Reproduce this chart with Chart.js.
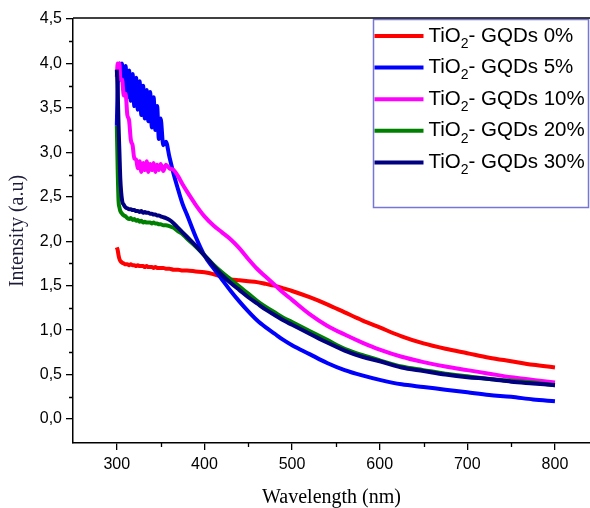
<!DOCTYPE html>
<html>
<head>
<meta charset="utf-8">
<script src="https://cdn.jsdelivr.net/npm/chart.js@4.4.1/dist/chart.umd.min.js"></script>
<style>
  html, body { margin: 0; padding: 0; background: #fff; overflow: hidden; }
</style>
</head>
<body>
<canvas id="chart" width="590" height="508"></canvas>
<script>
// wavelength grid (nm), shared by all spectra
const wavelength = [
  300, 301, 302, 303, 304, 306, 308, 310, 312, 314,
  316, 318, 320, 322, 324, 326, 328, 330, 332, 334,
  336, 338, 340, 342, 344, 346, 348, 350, 353, 356,
  360, 365, 370, 375, 380, 390, 400, 410, 420, 430,
  440, 450, 460, 470, 480, 490, 500, 520, 540, 560,
  580, 600, 625, 650, 675, 700, 725, 750, 775, 800,
];

const gqd0 = [
  1.93, 1.90, 1.84, 1.80, 1.78, 1.76, 1.75, 1.74, 1.74, 1.73,
  1.74, 1.73, 1.73, 1.72, 1.73, 1.72, 1.72, 1.72, 1.71, 1.72,
  1.71, 1.71, 1.71, 1.70, 1.71, 1.70, 1.70, 1.70, 1.70, 1.69,
  1.69, 1.68, 1.68, 1.67, 1.67, 1.66, 1.65, 1.63, 1.60, 1.57,
  1.56, 1.55, 1.54, 1.52, 1.50, 1.47, 1.44, 1.37, 1.29, 1.20,
  1.11, 1.03, 0.93, 0.85, 0.79, 0.74, 0.69, 0.65, 0.61, 0.58,
];
const gqd5 = [
  3.30, 3.75, 3.95, 4.00, 3.82, 4.00, 3.68, 3.97, 3.62, 3.92,
  3.58, 3.88, 3.52, 3.84, 3.48, 3.80, 3.42, 3.75, 3.38, 3.70,
  3.35, 3.68, 3.28, 3.62, 3.25, 3.52, 3.15, 3.38, 3.08, 3.12,
  2.95, 2.75, 2.58, 2.42, 2.30, 2.05, 1.84, 1.70, 1.57, 1.44,
  1.32, 1.21, 1.11, 1.03, 0.96, 0.89, 0.83, 0.73, 0.63, 0.55,
  0.49, 0.44, 0.39, 0.36, 0.33, 0.30, 0.27, 0.25, 0.22, 0.20,
];
const gqd10 = [
  3.85, 4.00, 3.92, 4.00, 3.82, 3.82, 3.64, 3.66, 3.42, 3.36,
  3.14, 3.08, 2.93, 2.92, 2.82, 2.90, 2.78, 2.88, 2.80, 2.90,
  2.78, 2.87, 2.80, 2.88, 2.78, 2.86, 2.80, 2.87, 2.79, 2.86,
  2.82, 2.80, 2.73, 2.64, 2.56, 2.41, 2.28, 2.18, 2.10, 2.02,
  1.92, 1.80, 1.69, 1.60, 1.51, 1.42, 1.34, 1.18, 1.05, 0.95,
  0.86, 0.78, 0.70, 0.64, 0.59, 0.55, 0.51, 0.47, 0.44, 0.41,
];
const gqd20 = [
  3.30, 2.80, 2.45, 2.38, 2.34, 2.31, 2.29, 2.28, 2.26, 2.25,
  2.26, 2.24, 2.25, 2.23, 2.24, 2.22, 2.23, 2.21, 2.22, 2.21,
  2.21, 2.21, 2.20, 2.21, 2.20, 2.20, 2.19, 2.19, 2.18, 2.18,
  2.17, 2.15, 2.11, 2.08, 2.03, 1.94, 1.84, 1.74, 1.65, 1.57,
  1.49, 1.41, 1.33, 1.26, 1.20, 1.14, 1.09, 0.99, 0.89, 0.79,
  0.72, 0.66, 0.59, 0.55, 0.51, 0.48, 0.45, 0.43, 0.41, 0.38,
];
const gqd30 = [
  3.93, 3.70, 3.30, 3.00, 2.70, 2.46, 2.41, 2.38, 2.37, 2.36,
  2.36, 2.35, 2.35, 2.34, 2.34, 2.33, 2.34, 2.32, 2.33, 2.32,
  2.32, 2.31, 2.31, 2.30, 2.30, 2.29, 2.29, 2.28, 2.27, 2.26,
  2.24, 2.20, 2.15, 2.10, 2.05, 1.95, 1.84, 1.73, 1.62, 1.53,
  1.45, 1.37, 1.30, 1.23, 1.17, 1.11, 1.06, 0.96, 0.86, 0.77,
  0.70, 0.65, 0.58, 0.54, 0.50, 0.47, 0.45, 0.42, 0.40, 0.38,
];

const seriesValues = [gqd0, gqd5, gqd10, gqd20, gqd30];
const seriesNames = ['0%', '5%', '10%', '20%', '30%'];
const seriesColors = ['#ff0000', '#0000ff', '#ff00ff', '#008000', '#000080'];

const xMajorTicks = [300, 400, 500, 600, 700, 800];
const xMinorTicks = [350, 450, 550, 650, 750];
const yMajorTicks = [0, 0.5, 1, 1.5, 2, 2.5, 3, 3.5, 4, 4.5];
const yMinorTicks = [0.25, 0.75, 1.25, 1.75, 2.25, 2.75, 3.25, 3.75, 4.25];

const SANS = "'Liberation Sans', Arial, sans-serif";
const SERIF = "'Liberation Serif', 'Times New Roman', serif";

// minor ticks + top frame line
const framePlugin = {
  id: 'frame',
  afterDraw(chart) {
    const { ctx, chartArea, scales } = chart;
    ctx.save();
    ctx.strokeStyle = '#000';
    ctx.lineWidth = 1.3;
    ctx.beginPath();
    xMinorTicks.forEach((v) => {
      const px = Math.round(scales.x.getPixelForValue(v)) + 0.5;
      ctx.moveTo(px, chartArea.bottom);
      ctx.lineTo(px, chartArea.bottom + 4);
    });
    yMinorTicks.forEach((v) => {
      const py = Math.round(scales.y.getPixelForValue(v)) + 0.5;
      ctx.moveTo(chartArea.left, py);
      ctx.lineTo(chartArea.left - 4, py);
    });
    ctx.stroke();
    ctx.lineWidth = 1.5;
    ctx.beginPath();
    ctx.moveTo(chartArea.left, chartArea.top - 1);
    ctx.lineTo(chartArea.right, chartArea.top - 1);
    ctx.stroke();
    ctx.restore();
  },
};

// boxed legend with TiO2 subscript
const legendPlugin = {
  id: 'boxLegend',
  afterDatasetsDraw(chart) {
    const ctx = chart.ctx;
    const bx = 373.5, by = 19.5;
    ctx.save();
    ctx.fillStyle = '#fff';
    ctx.fillRect(bx, by, 215, 188);
    ctx.strokeStyle = '#7676d8';
    ctx.lineWidth = 1.5;
    ctx.strokeRect(bx, by, 215, 188);
    seriesNames.forEach((name, i) => {
      const y = 36 + i * 31.6;
      ctx.strokeStyle = seriesColors[i];
      ctx.lineWidth = 4;
      ctx.beginPath();
      ctx.moveTo(bx + 1, y);
      ctx.lineTo(bx + 50, y);
      ctx.stroke();
      ctx.fillStyle = '#000';
      ctx.textBaseline = 'middle';
      ctx.font = '20.5px ' + SANS;
      let tx = bx + 55;
      ctx.fillText('TiO', tx, y);
      tx += ctx.measureText('TiO').width;
      ctx.font = '14px ' + SANS;
      ctx.fillText('2', tx, y + 8);
      tx += ctx.measureText('2').width;
      ctx.font = '20.5px ' + SANS;
      ctx.fillText('- GQDs ' + name, tx, y);
    });
    ctx.restore();
  },
};

const datasets = seriesValues.map((vals, i) => ({
  label: 'TiO2- GQDs ' + seriesNames[i],
  data: wavelength.map((w, j) => ({ x: w, y: vals[j] })),
  borderColor: seriesColors[i],
  backgroundColor: seriesColors[i],
  borderWidth: 4,
  pointRadius: 0,
  cubicInterpolationMode: 'monotone',
  order: seriesValues.length - i,
}));

new Chart(document.getElementById('chart').getContext('2d'), {
  type: 'line',
  data: { datasets },
  plugins: [framePlugin, legendPlugin],
  options: {
    responsive: false,
    animation: false,
    layout: { padding: { top: 19, right: 0, left: 0, bottom: 0 } },
    plugins: { legend: { display: false }, tooltip: { enabled: false } },
    scales: {
      x: {
        type: 'linear',
        min: 250,
        max: 840,
        afterBuildTicks: (scale) => {
          scale.ticks = xMajorTicks.map((v) => ({ value: v }));
        },
        afterFit: (scale) => {
          scale.height = 65;
        },
        border: { display: true, color: '#000', width: 1.5 },
        grid: {
          drawOnChartArea: false,
          drawTicks: true,
          tickLength: 7,
          color: '#000',
          lineWidth: 1.3,
        },
        ticks: {
          color: '#000',
          font: { family: SANS, size: 16 },
          padding: 5,
          maxRotation: 0,
          callback: (v) => String(v),
        },
        title: {
          display: true,
          text: 'Wavelength (nm)',
          color: '#000',
          font: { family: SERIF, size: 20 },
          padding: { top: 0, bottom: -2 },
        },
      },
      y: {
        min: -0.27,
        max: 4.5,
        afterBuildTicks: (scale) => {
          scale.ticks = yMajorTicks.map((v) => ({ value: v }));
        },
        afterFit: (scale) => {
          scale.width = 73;
        },
        border: { display: true, color: '#000', width: 1.5 },
        grid: {
          drawOnChartArea: false,
          drawTicks: true,
          tickLength: 7,
          color: '#000',
          lineWidth: 1.3,
        },
        ticks: {
          color: '#000',
          font: { family: SANS, size: 16 },
          padding: 4,
          callback: (v) => v.toFixed(1).replace('.', ','),
        },
        title: {
          display: true,
          text: 'Intensity (a.u)',
          color: '#1c1c3a',
          font: { family: SERIF, size: 20 },
          padding: { top: 6, bottom: 0 },
        },
      },
    },
  },
});
</script>
</body>
</html>
